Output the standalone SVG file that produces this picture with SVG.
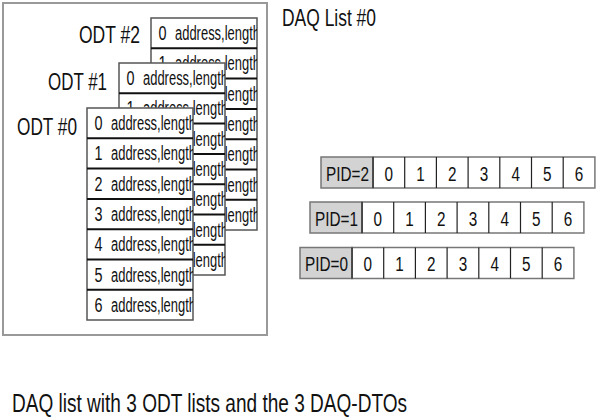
<svg xmlns="http://www.w3.org/2000/svg" width="600" height="417" viewBox="0 0 600 417">
<style>
text{font-family:"Liberation Sans",Arial,sans-serif;fill:#111}
.lbl{font-size:24px}
.cap{font-size:25px}
.cell{font-size:20px}
.tb{fill:#fff;stroke:#555;stroke-width:1.5}
.sep{stroke:#111;stroke-width:2}
.pc{fill:#fff;stroke:#777;stroke-width:1.5}
.pid{fill:#d3d3d3;stroke:#777;stroke-width:1.5}
.vs{stroke:#222;stroke-width:1.2}
</style>
<defs>
<clipPath id="tclip" clipPathUnits="userSpaceOnUse"><rect x="0" y="0" width="106" height="212"/></clipPath>
<g id="odtTable">
<rect class="tb" x="0" y="0" width="106" height="212"/>
<g clip-path="url(#tclip)" class="cell">
<text x="7.5" y="22" textLength="8" lengthAdjust="spacingAndGlyphs">0</text><text x="24" y="22" textLength="85" lengthAdjust="spacingAndGlyphs">address,length</text>
<text x="7.5" y="52.3" textLength="8" lengthAdjust="spacingAndGlyphs">1</text><text x="24" y="52.3" textLength="85" lengthAdjust="spacingAndGlyphs">address,length</text>
<text x="7.5" y="82.6" textLength="8" lengthAdjust="spacingAndGlyphs">2</text><text x="24" y="82.6" textLength="85" lengthAdjust="spacingAndGlyphs">address,length</text>
<text x="7.5" y="112.9" textLength="8" lengthAdjust="spacingAndGlyphs">3</text><text x="24" y="112.9" textLength="85" lengthAdjust="spacingAndGlyphs">address,length</text>
<text x="7.5" y="143.2" textLength="8" lengthAdjust="spacingAndGlyphs">4</text><text x="24" y="143.2" textLength="85" lengthAdjust="spacingAndGlyphs">address,length</text>
<text x="7.5" y="173.5" textLength="8" lengthAdjust="spacingAndGlyphs">5</text><text x="24" y="173.5" textLength="85" lengthAdjust="spacingAndGlyphs">address,length</text>
<text x="7.5" y="203.8" textLength="8" lengthAdjust="spacingAndGlyphs">6</text><text x="24" y="203.8" textLength="85" lengthAdjust="spacingAndGlyphs">address,length</text>
</g>
<g class="sep">
<line x1="0" y1="30.3" x2="106" y2="30.3"/>
<line x1="0" y1="60.6" x2="106" y2="60.6"/>
<line x1="0" y1="90.9" x2="106" y2="90.9"/>
<line x1="0" y1="121.2" x2="106" y2="121.2"/>
<line x1="0" y1="151.5" x2="106" y2="151.5"/>
<line x1="0" y1="181.8" x2="106" y2="181.8"/>
</g>
</g>
<g id="pidCells">
<rect class="pc" x="52" y="0" width="221.9" height="31"/>
<g class="vs">
<line x1="83.7" y1="0" x2="83.7" y2="31"/>
<line x1="115.4" y1="0" x2="115.4" y2="31"/>
<line x1="147.1" y1="0" x2="147.1" y2="31"/>
<line x1="178.8" y1="0" x2="178.8" y2="31"/>
<line x1="210.5" y1="0" x2="210.5" y2="31"/>
<line x1="242.2" y1="0" x2="242.2" y2="31"/>
</g>
<g class="cell" text-anchor="middle">
<text x="67.85" y="23.5" textLength="8.5" lengthAdjust="spacingAndGlyphs">0</text>
<text x="99.55" y="23.5" textLength="8.5" lengthAdjust="spacingAndGlyphs">1</text>
<text x="131.25" y="23.5" textLength="8.5" lengthAdjust="spacingAndGlyphs">2</text>
<text x="162.95" y="23.5" textLength="8.5" lengthAdjust="spacingAndGlyphs">3</text>
<text x="194.65" y="23.5" textLength="8.5" lengthAdjust="spacingAndGlyphs">4</text>
<text x="226.35" y="23.5" textLength="8.5" lengthAdjust="spacingAndGlyphs">5</text>
<text x="258.05" y="23.5" textLength="8.5" lengthAdjust="spacingAndGlyphs">6</text>
</g>
<rect class="pid" x="0" y="0" width="52" height="31"/>
<line class="vs" x1="52" y1="0" x2="52" y2="31"/>
</g>
</defs>

<g id="daq-list">
<rect x="3" y="3" width="264" height="332" fill="#fff" stroke="#999" stroke-width="2"/>
<text class="lbl" x="282" y="26" textLength="94" lengthAdjust="spacingAndGlyphs">DAQ List #0</text>
</g>

<g id="odt2">
<text class="lbl" x="140" y="43" text-anchor="end" textLength="61" lengthAdjust="spacingAndGlyphs">ODT #2</text>
<use href="#odtTable" x="151" y="18"/>
</g>
<g id="odt1">
<text class="lbl" x="107" y="90" text-anchor="end" textLength="59" lengthAdjust="spacingAndGlyphs">ODT #1</text>
<use href="#odtTable" x="119" y="63"/>
</g>
<g id="odt0">
<text class="lbl" x="77" y="135" text-anchor="end" textLength="60" lengthAdjust="spacingAndGlyphs">ODT #0</text>
<use href="#odtTable" x="87" y="108"/>
</g>

<g id="dto2">
<use href="#pidCells" x="321" y="157"/>
<text class="cell" x="326" y="180.5" textLength="43" lengthAdjust="spacingAndGlyphs">PID=2</text>
</g>
<g id="dto1">
<use href="#pidCells" x="310" y="202"/>
<text class="cell" x="315" y="225.5" textLength="43" lengthAdjust="spacingAndGlyphs">PID=1</text>
</g>
<g id="dto0">
<use href="#pidCells" x="300" y="247.5"/>
<text class="cell" x="305" y="271" textLength="43" lengthAdjust="spacingAndGlyphs">PID=0</text>
</g>

<g id="connectors"/>

<g id="caption">
<text class="cap" x="12" y="411.5" textLength="395" lengthAdjust="spacingAndGlyphs">DAQ list with 3 ODT lists and the 3 DAQ-DTOs</text>
</g>
</svg>
